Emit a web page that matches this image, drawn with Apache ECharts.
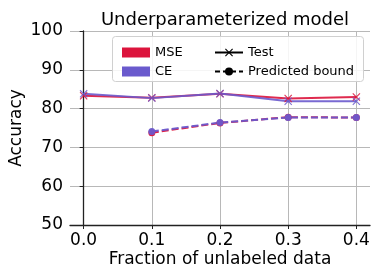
<!DOCTYPE html>
<html>
<head>
    <meta charset="utf-8">
    <title>Underparameterized model</title>
    <script src="https://cdn.jsdelivr.net/npm/echarts@6/dist/echarts.min.js"></script>
    <style>
        * {
            margin: 0;
            padding: 0
        }

        html, body {
            width: 100%;
            height: 100%;
            background: #fff;
        }

        #main {
            width: 371px;
            height: 267px;
        }
    </style>
</head>
<body>
<div id="main"></div>
<script type="text/javascript">
    /*--------------------数据-----------------------------*/
    var fractions = [0.0, 0.1, 0.2, 0.3, 0.4];
    var boundFractions = [0.1, 0.2, 0.3, 0.4];
    var mseTest = [83.3, 82.8, 83.8, 82.6, 83.0];
    var ceTest = [83.8, 82.7, 83.9, 81.9, 81.9];
    var mseBound = [73.8, 76.3, 77.8, 77.7];
    var ceBound = [74.1, 76.4, 77.7, 77.7];
    var xTicks = [0.0, 0.1, 0.2, 0.3, 0.4];

    var MSE_COLOR = '#DC143C';
    var CE_COLOR = '#6A5ACD';
    var FONT = 'DejaVu Sans';
    // 叉号标记
    var CROSS = 'path://M0,1 L1,0 L5,4 L9,0 L10,1 L6,5 L10,9 L9,10 L5,6 L1,10 L0,9 L4,5 Z';

    function pairs(xs, ys) {
        return xs.map(function (x, i) {
            return [x, ys[i]];
        });
    }

    function testSeries(name, color, ys) {
        return {
            name: name,
            type: 'line',
            data: pairs(fractions, ys),
            symbol: CROSS,
            symbolSize: 8,
            color: color,
            itemStyle: {color: color, opacity: 0.85},
            lineStyle: {color: color, width: 2, opacity: 0.9},
            z: 3
        };
    }

    function boundSeries(name, color, ys) {
        return {
            name: name,
            type: 'line',
            data: pairs(boundFractions, ys),
            symbol: 'circle',
            symbolSize: 7,
            color: color,
            itemStyle: {color: color, opacity: 0.95},
            lineStyle: {color: color, width: 2, type: [7, 3], opacity: 0.95},
            z: 3
        };
    }

    var legendText = {fontFamily: FONT, fontSize: 13, color: '#000'};

    var chart = echarts.init(document.getElementById('main'));
    chart.setOption({
        animation: false,
        textStyle: {fontFamily: FONT},
        title: {
            text: 'Underparameterized model',
            left: 220,
            textAlign: 'center',
            top: 6,
            textStyle: {fontFamily: FONT, fontSize: 18, fontWeight: 'normal', color: '#000'}
        },
        grid: {left: 70, right: 1, top: 31, bottom: 42, outerBoundsMode: 'none', containLabel: false},
        legend: [
            {
                orient: 'vertical',
                left: 117,
                top: 41,
                itemWidth: 28,
                itemHeight: 10,
                itemGap: 6,
                textStyle: legendText,
                data: [
                    {name: 'MSE', icon: 'rect', itemStyle: {color: MSE_COLOR, opacity: 1}},
                    {name: 'CE', icon: 'rect', itemStyle: {color: CE_COLOR, opacity: 1}}
                ]
            },
            {
                orient: 'vertical',
                left: 209,
                top: 41,
                itemWidth: 28,
                itemHeight: 10,
                itemGap: 6,
                textStyle: legendText,
                data: ['Test', 'Predicted bound']
            }
        ],
        graphic: [{
            type: 'rect',
            left: 112,
            top: 36,
            z: 3,
            shape: {width: 251, height: 45, r: 3},
            style: {fill: 'rgba(255,255,255,0.85)', stroke: '#d0d0d0', lineWidth: 1}
        }],
        xAxis: {
            type: 'value',
            min: -0.02,
            max: 0.42,
            name: 'Fraction of unlabeled data',
            nameLocation: 'middle',
            nameGap: 26,
            nameMoveOverlap: false,
            nameTextStyle: {fontFamily: FONT, fontSize: 17, color: '#000'},
            axisLine: {lineStyle: {color: '#222', width: 1.3}},
            axisTick: {show: true, length: 4, customValues: xTicks, lineStyle: {color: '#222'}},
            axisLabel: {
                customValues: xTicks,
                margin: 7,
                fontFamily: FONT,
                fontSize: 17,
                color: '#000',
                formatter: function (v) {
                    return v.toFixed(1);
                }
            },
            splitLine: {show: true, lineStyle: {color: '#b8b8b8', width: 1}}
        },
        yAxis: {
            type: 'value',
            min: 50,
            max: 100,
            interval: 10,
            name: 'Accuracy',
            nameLocation: 'middle',
            nameGap: 45,
            nameMoveOverlap: false,
            nameTextStyle: {fontFamily: FONT, fontSize: 17, color: '#000'},
            axisLine: {show: true, lineStyle: {color: '#222', width: 1.3}},
            axisTick: {show: true, length: 4, lineStyle: {color: '#222'}},
            axisLabel: {margin: 7, fontFamily: FONT, fontSize: 17, color: '#000'},
            splitLine: {show: true, lineStyle: {color: '#b8b8b8', width: 1}}
        },
        series: [
            testSeries('MSE', MSE_COLOR, mseTest),
            testSeries('CE', CE_COLOR, ceTest),
            boundSeries('MSE', MSE_COLOR, mseBound),
            boundSeries('CE', CE_COLOR, ceBound),
            // 仅用于图例
            {
                name: 'Test', type: 'line', data: [], symbol: CROSS, symbolSize: 6,
                color: '#000', lineStyle: {color: '#000', width: 1.5}
            },
            {
                name: 'Predicted bound', type: 'line', data: [], symbol: 'circle', symbolSize: 6,
                color: '#000', lineStyle: {color: '#000', width: 1.5, type: [5, 3]}
            }
        ]
    });
</script>
</body>
</html>
